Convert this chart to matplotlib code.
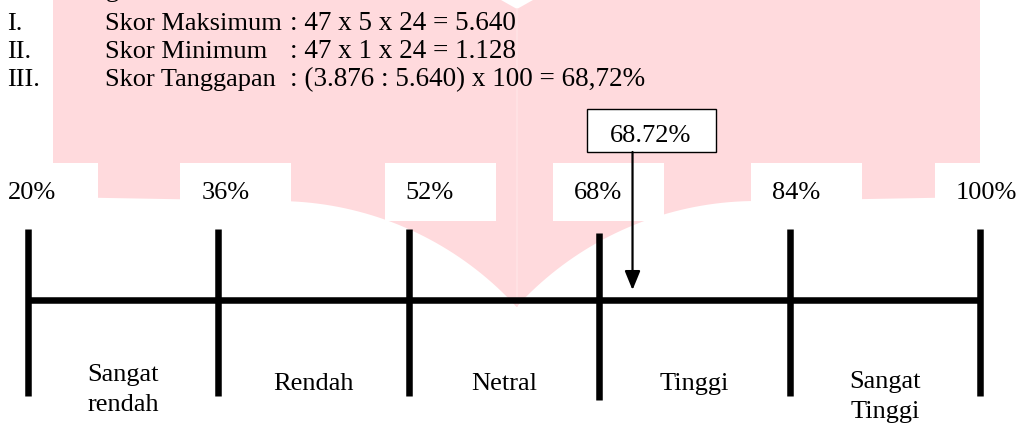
import numpy as np
import matplotlib.pyplot as plt
from matplotlib.patches import Polygon, Rectangle

plt.rcParams['font.family'] = ['Liberation Serif', 'DejaVu Serif']

# values
tick_values = [20, 36, 52, 68, 84, 100]
tick_labels = ['20%', '36%', '52%', '68%', '84%', '100%']
categories = ['Sangat\nrendah', 'Rendah', 'Netral', 'Tinggi', 'Sangat\nTinggi']
n_resp = 47
n_items = 24
max_point = 5
min_point = 1
total_score = 3876
marker_pos = 70.8    # where the arrow actually sits on the drawn scale

skor_max = n_resp * max_point * n_items
skor_min = n_resp * min_point * n_items
skor_pct = total_score / skor_max * 100


def thousands(v):
    return f'{v:,}'.replace(',', '.')


W, H = 1019, 424
FS = 19
fig = plt.figure(figsize=(W / 100, H / 100), dpi=100)

# background layer in pixel units (watermark, heading, label boxes)
bg = fig.add_axes([0, 0, 1, 1])
bg.set_xlim(0, W)
bg.set_ylim(H, 0)
bg.axis('off')

# scale layer: x in percent, y in pixels
ax = fig.add_axes([0, 0, 1, 1])
ax.set_xlim(20 - 28 / 11.9, 20 + (W - 28) / 11.9)
ax.set_ylim(H, 0)
ax.axis('off')
ax.patch.set_visible(False)


def px(p):
    return ax.transData.transform((p, 0))[0]


# pink watermark shape
cx, R, cy = 516.5, 325, 526
t = np.radians(np.linspace(90, 42.4, 40))
left_arc = np.column_stack([cx - 240 + R * np.cos(t), cy - R * np.sin(t)])
right_arc = np.column_stack([2 * cx - left_arc[::-1, 0], left_arc[::-1, 1]])
outline = np.vstack([[[53, 0], [53, 197]], left_arc, right_arc,
                     [[980, 197], [980, 0], [533, 0], [517, 9], [501, 0]]])
bg.add_patch(Polygon(outline, closed=True, facecolor='#ffdadd', edgecolor='none', zorder=0))
bg.plot([517, 517], [9, 306], color='#ffe3e5', lw=1.2, zorder=0.5)

# heading (the line above it is cut off by the picture's top edge)
bg.text(106, -3, 'g', fontsize=FS, va='baseline')
rows = [
    ('I.', 'Skor Maksimum', f': {n_resp} x {max_point} x {n_items} = {thousands(skor_max)}'),
    ('II.', 'Skor Minimum', f': {n_resp} x {min_point} x {n_items} = {thousands(skor_min)}'),
    ('III.', 'Skor Tanggapan',
     f': ({thousands(total_score)} : {thousands(skor_max)}) x 100 = {skor_pct:.2f}%'.replace('.72', ',72')),
]
for i, (num, name, calc) in enumerate(rows):
    y = 30 + i * 28
    bg.text(7, y, num, fontsize=FS, va='baseline')
    bg.text(105, y, name, fontsize=FS, va='baseline')
    bg.text(290, y, calc, fontsize=19.5, va='baseline')

# tick labels on white text boxes
label_shift = [-20, -17, -3, -25, -18, -24]
for v, lab, s in zip(tick_values, tick_labels, label_shift):
    left = px(v) + s
    bg.add_patch(Rectangle((left - 21, 163), 111, 58, facecolor='white', edgecolor='none', zorder=1))
    bg.text(left, 199, lab, fontsize=FS, va='baseline', zorder=2)

# scale line and ticks
tick_drop = [0, 0, 0, 4, 0, 0]
ax.plot([tick_values[0], tick_values[-1]], [300, 300], color='black', lw=4.7, solid_capstyle='butt', zorder=3)
for v, d in zip(tick_values, tick_drop):
    ax.plot([v, v], [229 + d, 396 + d], color='black', lw=4.7, solid_capstyle='butt', zorder=3)

# category names centred in each band
first_base = [381, 390, 390, 390, 388]
for i, (cat, b) in enumerate(zip(categories, first_base)):
    mid = (tick_values[i] + tick_values[i + 1]) / 2
    for j, line in enumerate(cat.split('\n')):
        ax.text(mid, b + j * 30, line, fontsize=FS, ha='center', va='baseline', zorder=4)

# result box and arrow
ax.annotate('', xy=(marker_pos, 290), xytext=(marker_pos, 152),
            arrowprops=dict(arrowstyle='-|>,head_length=1.15,head_width=0.47', mutation_scale=10,
                            lw=1.6, color='black', shrinkA=0, shrinkB=0), zorder=5)
bx = px(marker_pos) - 46
bg.add_patch(Rectangle((bx, 109), 129, 43, facecolor='white', edgecolor='black', lw=1.0, zorder=6))
clip = Rectangle((bx, 109), 129, 32, transform=bg.transData)
txt = bg.text(bx + 64.5, 142.5, f'{skor_pct:.2f}%', fontsize=FS, ha='center', va='baseline', zorder=7)
txt.set_clip_path(clip)

fig.savefig('out.png', dpi=100, facecolor='white')
